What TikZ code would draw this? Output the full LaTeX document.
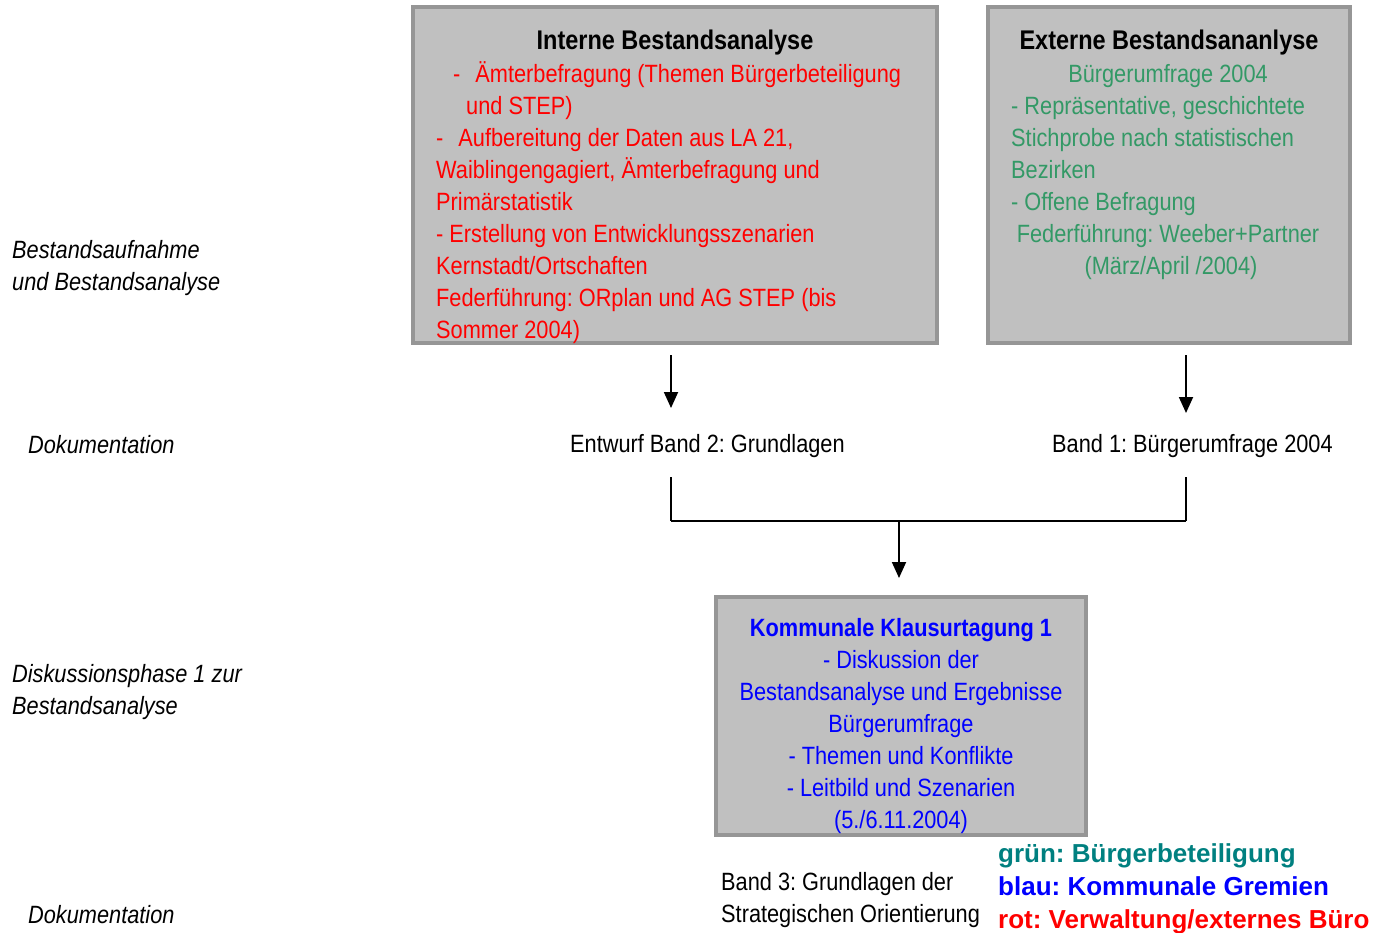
\documentclass[tikz,border=0pt]{standalone}
\usepackage{fontspec}
\setmainfont{Liberation Sans}[FakeStretch=0.87]
\newfontfamily\legendfont{Liberation Sans}
\usetikzlibrary{arrows.meta}
\definecolor{boxgray}{HTML}{C0C0C0}
\definecolor{boxborder}{HTML}{969696}
\definecolor{tred}{HTML}{FF0000}
\definecolor{tgreen}{HTML}{339966}
\definecolor{tblue}{HTML}{0000FF}
\definecolor{tteal}{HTML}{008080}
\frenchspacing
\begin{document}
\begin{tikzpicture}[x=1pt,y=-1pt,
  panel/.style={draw=boxborder, fill=boxgray, line width=4pt, inner sep=0pt},
  txt/.style={inner sep=0pt, font=\fontsize{25}{30}\selectfont, anchor=base west},
  ctxt/.style={inner sep=0pt, font=\fontsize{25}{30}\selectfont, anchor=base},
  ttl/.style={inner sep=0pt, font=\fontsize{27}{30}\selectfont\bfseries, anchor=base},
  side/.style={txt, font=\fontsize{25}{30}\selectfont\itshape},
  legend/.style={inner sep=0pt, font=\fontsize{26}{30}\selectfont\legendfont\bfseries, anchor=base west},
  conn/.style={line width=1.8pt, black},
  arr/.style={conn, -{Triangle[length=16pt,width=14pt]}}
]
\useasboundingbox (0,0) rectangle (1380,932);
\fill[white] (0,0) rectangle (1380,932);

% panels
\node[panel, minimum width=524pt, minimum height=336pt] (ib) at (675,175) {};
\node[panel, minimum width=362pt, minimum height=336pt] (eb) at (1169,175) {};
\node[panel, minimum width=370pt, minimum height=238pt] (kk) at (901,716) {};

% Interne
\node[ttl] (ibt) at (675,49) {Interne Bestandsanalyse};
\begin{scope}[every node/.append style={text=tred}]
\node[txt] (i1) at (453,82) {-\hspace{0.6em}Ämterbefragung (Themen Bürgerbeteiligung};
\node[txt] (i2) at (466,114) {und STEP)};
\node[txt] (i3) at (436,146) {-\hspace{0.6em}Aufbereitung der Daten aus LA 21,};
\node[txt] (i4) at (436,178) {Waiblingengagiert, Ämterbefragung und};
\node[txt] (i5) at (436,210) {Primärstatistik};
\node[txt] (i6) at (436,242) {- Erstellung von Entwicklungsszenarien};
\node[txt] (i7) at (436,274) {Kernstadt/Ortschaften};
\node[txt] (i8) at (436,306) {Federführung: ORplan und AG STEP (bis};
\node[txt] (i9) at (436,338) {Sommer 2004)};
\end{scope}

% Externe
\node[ttl] (ebt) at (1169,49) {Externe Bestandsananlyse};
\begin{scope}[every node/.append style={text=tgreen}]
\node[ctxt] (e1) at (1168,82) {Bürgerumfrage 2004};
\node[txt] (e2) at (1011,114) {- Repräsentative, geschichtete};
\node[txt] (e3) at (1011,146) {Stichprobe nach statistischen};
\node[txt] (e4) at (1011,178) {Bezirken};
\node[txt] (e5) at (1011,210) {- Offene Befragung};
\node[ctxt] (e6) at (1168,242) {Federführung: Weeber+Partner};
\node[ctxt] (e7) at (1171,274) {(März/April /2004)};
\end{scope}

% Kommunale
\begin{scope}[every node/.append style={text=tblue}]
\node[ttl, font=\fontsize{25}{30}\selectfont\bfseries] (kt) at (901,636) {Kommunale Klausurtagung 1};
\node[ctxt] (k1) at (901,668) {- Diskussion der};
\node[ctxt] (k2) at (901,700) {Bestandsanalyse und Ergebnisse};
\node[ctxt] (k3) at (901,732) {Bürgerumfrage};
\node[ctxt] (k4) at (901,764) {- Themen und Konflikte};
\node[ctxt] (k5) at (901,796) {- Leitbild und Szenarien};
\node[ctxt] (k6) at (901,828) {(5./6.11.2004)};
\end{scope}

% side labels
\node[side] (s1) at (12,258) {Bestandsaufnahme};
\node[side] (s2) at (12,290) {und Bestandsanalyse};
\node[side] (s3) at (28,453) {Dokumentation};
\node[side] (s4) at (12,682) {Diskussionsphase 1 zur};
\node[side] (s5) at (12,714) {Bestandsanalyse};
\node[side] (s6) at (28,923) {Dokumentation};

% documents
\node[txt] (b2) at (570,452) {Entwurf Band 2: Grundlagen};
\node[txt] (b1) at (1052,452) {Band 1: Bürgerumfrage 2004};
\node[txt] (b3a) at (721,890) {Band 3: Grundlagen der};
\node[txt] (b3b) at (721,922) {Strategischen Orientierung};

% legend
\node[legend, text=tteal] (l1) at (998,862) {grün: Bürgerbeteiligung};
\node[legend, text=tblue] (l2) at (998,895) {blau: Kommunale Gremien};
\node[legend, text=tred] (l3) at (998,928) {rot: Verwaltung/externes Büro};

% connectors
\coordinate (a1s) at (671,355); \coordinate (a1e) at (671,408);
\coordinate (a2s) at (1186,355); \coordinate (a2e) at (1186,413);
\coordinate (v1s) at (671,477); \coordinate (jl) at (671,521);
\coordinate (v2s) at (1186,477); \coordinate (jr) at (1186,521);
\coordinate (jm) at (899,521); \coordinate (a3e) at (899,578);
\draw[arr] (a1s) -- (a1e);
\draw[arr] (a2s) -- (a2e);
\draw[conn] (v1s) -- (jl);
\draw[conn] (v2s) -- (jr);
\draw[conn] (jl) -- (jr);
\draw[arr] (jm) -- (a3e);
\end{tikzpicture}
\end{document}
